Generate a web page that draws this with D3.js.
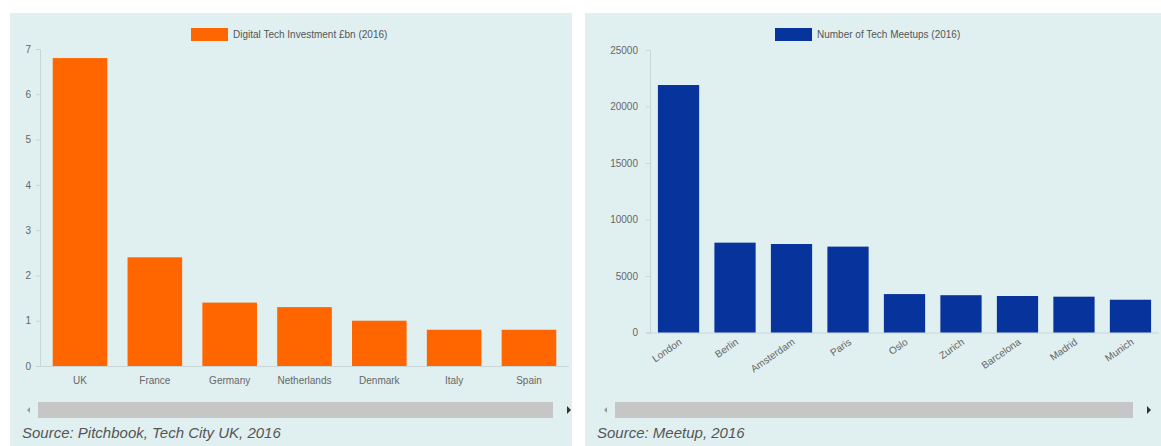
<!DOCTYPE html>
<html>
<head>
<meta charset="utf-8">
<script src="https://cdn.jsdelivr.net/npm/d3@7"></script>
<style>
  body { margin: 0; background: #fff; }
  svg { display: block; font-family: "Liberation Sans", Arial, sans-serif; }
</style>
</head>
<body>
<svg id="main" width="1161" height="446"></svg>
<script>
// left chart
const investCountries = ['UK', 'France', 'Germany', 'Netherlands', 'Denmark', 'Italy', 'Spain'];
const investValues = [6.8, 2.4, 1.4, 1.3, 1.0, 0.8, 0.8];
const investTicks = [0, 1, 2, 3, 4, 5, 6, 7];

// right chart
const meetupCities = ['London', 'Berlin', 'Amsterdam', 'Paris', 'Oslo', 'Zurich', 'Barcelona', 'Madrid', 'Munich'];
const meetupValues = [21900, 7950, 7830, 7600, 3400, 3300, 3230, 3170, 2900];
const meetupTicks = [0, 5000, 10000, 15000, 20000, 25000];

const svg = d3.select('#main');

function drawPanel(cfg) {
    const g = svg.append('g');
    // panel background
    g.append('rect')
        .attr('x', cfg.bg[0]).attr('y', 13)
        .attr('width', cfg.bg[1] - cfg.bg[0]).attr('height', 446 - 13)
        .attr('fill', '#e0f0f1');

    const x = d3.scaleBand()
        .domain(cfg.cats)
        .range(cfg.xr)
        .paddingInner(0.27)
        .paddingOuter(cfg.outer);
    const y = d3.scaleLinear()
        .domain([0, cfg.max])
        .range(cfg.yr);

    // x baseline
    g.append('line')
        .attr('x1', cfg.xr[0] - 4).attr('x2', cfg.xr[1])
        .attr('y1', y(0) + 0.5).attr('y2', y(0) + 0.5)
        .attr('stroke', '#c9d6d8');

    // y axis
    const yAxis = g.append('g')
        .attr('transform', `translate(${cfg.xr[0]},0)`)
        .call(d3.axisLeft(y).tickValues(cfg.ticks).tickFormat(d3.format('d')).tickSize(4).tickPadding(cfg.tickPad));
    yAxis.select('.domain').attr('stroke', '#c9d6d8');
    yAxis.selectAll('.tick line').attr('stroke', '#c9d6d8');
    yAxis.selectAll('text').attr('fill', '#666').style('font-size', '10px');

    g.selectAll('rect.bar')
        .data(cfg.vals)
        .join('rect')
        .attr('class', 'bar')
        .attr('x', (d, i) => x(cfg.cats[i]))
        .attr('y', d => y(d))
        .attr('width', x.bandwidth())
        .attr('height', d => y(0) - y(d))
        .attr('fill', cfg.color);

    // category labels
    const lab = g.selectAll('text.cat')
        .data(cfg.cats)
        .join('text')
        .attr('class', 'cat')
        .attr('fill', '#666')
        .style('font-size', '10px')
        .text(d => d);
    if (cfg.rotate) {
        lab.attr('text-anchor', 'end')
            .attr('transform', d => `translate(${x(d) + x.bandwidth() / 2 + 4},${y(0) + 11}) rotate(-35)`);
    } else {
        lab.attr('text-anchor', 'middle')
            .attr('x', d => x(d) + x.bandwidth() / 2)
            .attr('y', y(0) + 18);
    }

    // legend
    g.append('rect')
        .attr('x', cfg.legend[0]).attr('y', 28)
        .attr('width', 37).attr('height', 13)
        .attr('fill', cfg.color);
    g.append('text')
        .attr('x', cfg.legend[0] + 42).attr('y', 38)
        .attr('fill', '#555')
        .style('font-size', '10px')
        .text(cfg.title);

    // scrollbar
    g.append('rect')
        .attr('x', cfg.scroll[0]).attr('y', 402)
        .attr('width', cfg.scroll[1] - cfg.scroll[0]).attr('height', 16)
        .attr('fill', '#c6c6c6');
    g.append('path')
        .attr('d', `M${cfg.scroll[0] - 8},407 l-3,3 l3,3 z`)
        .attr('fill', '#999');
    g.append('path')
        .attr('d', `M${cfg.scroll[1] + 14},406 l4,4 l-4,4 z`)
        .attr('fill', '#333');

    // source
    g.append('text')
        .attr('x', cfg.bg[0] + 12).attr('y', 438)
        .attr('fill', '#555')
        .style('font-size', '15px')
        .style('font-style', 'italic')
        .text(cfg.source);
}

drawPanel({
    bg: [10, 572], cats: investCountries, vals: investValues, ticks: investTicks,
    max: 7, xr: [40, 569], yr: [366, 49], outer: 0.17, tickPad: 5,
    color: '#ff6600', legend: [191], title: 'Digital Tech Investment £bn (2016)',
    scroll: [38, 553], source: 'Source: Pitchbook, Tech City UK, 2016', rotate: false
});

drawPanel({
    bg: [585, 1161], cats: meetupCities, vals: meetupValues, ticks: meetupTicks,
    max: 25000, xr: [650, 1159], yr: [332.5, 50], outer: 0.14, tickPad: 8,
    color: '#07339c', legend: [775], title: 'Number of Tech Meetups (2016)',
    scroll: [615, 1133], source: 'Source: Meetup, 2016', rotate: true
});
</script>
</body>
</html>
